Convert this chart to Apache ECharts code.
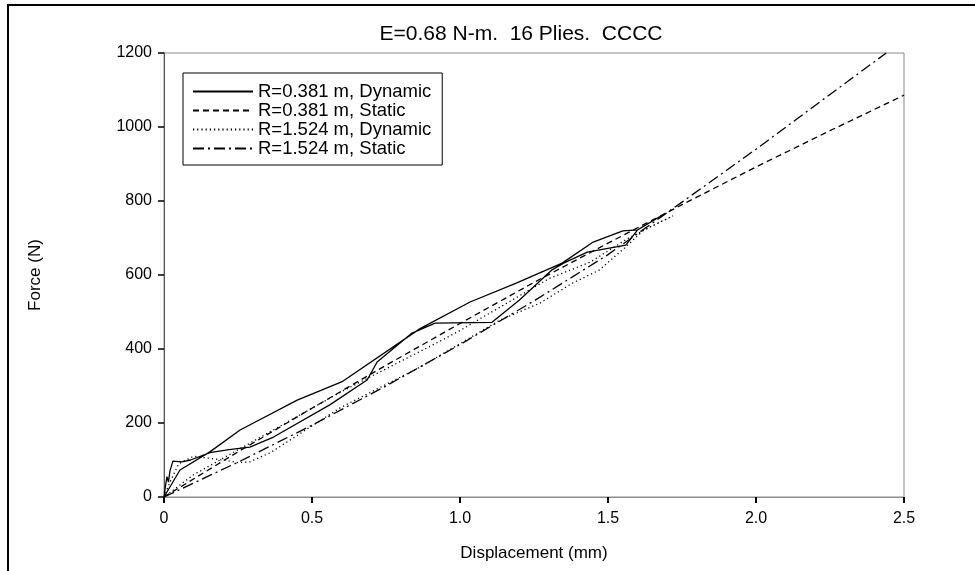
<!DOCTYPE html>
<html>
<head>
<meta charset="utf-8">
<script src="https://cdn.jsdelivr.net/npm/echarts@6/dist/echarts.min.js"></script>
<style>
html,body{margin:0;padding:0;background:#fff;}
#chart{width:975px;height:571px;}
</style>
</head>
<body>
<div id="chart"></div>
<script>
// ---- Data ----
var seriesNames = ['R=0.381 m, Dynamic', 'R=0.381 m, Static', 'R=1.524 m, Dynamic', 'R=1.524 m, Static'];

// R=0.381 m, Dynamic (loading then unloading loop)
var dyn381X = [0, 0.005, 0.01, 0.015, 0.02, 0.03, 0.06, 0.09, 0.155, 0.22, 0.29, 0.37, 0.56, 0.686, 0.72, 0.838, 0.916, 1.108, 1.2, 1.311, 1.35, 1.43, 1.56, 1.6, 1.68,
               1.6, 1.55, 1.45, 1.345, 1.19, 1.034, 0.865, 0.6, 0.45, 0.257, 0.155, 0.054, 0];
var dyn381Y = [0, 30, 55, 40, 70, 97, 95, 100, 120, 128, 135, 162, 249, 316, 365, 443, 470, 472, 532, 614, 632, 662, 681, 722, 760,
               722, 719, 689, 632, 578, 527, 455, 311, 262, 181, 122, 73, 0];

// R=0.381 m, Static
var sta381X = [0, 0.25, 0.5, 0.75, 1.0, 1.25, 1.5, 1.75, 2.0, 2.25, 2.5];
var sta381Y = [0, 122, 240, 356, 469, 580, 686, 790, 892, 990, 1086];

// R=1.524 m, Dynamic (loading then unloading loop)
var dyn1524X = [0, 0.02, 0.05, 0.1, 0.2, 0.25, 0.29, 0.36, 0.595, 0.865, 1.135, 1.27, 1.38, 1.47, 1.56, 1.62, 1.72,
                1.68, 1.57, 1.44, 1.3, 1.0, 0.93, 0.6, 0.3, 0.1, 0];
var dyn1524Y = [0, 40, 90, 110, 100, 93, 95, 120, 241, 351, 478, 524, 578, 613, 676, 721, 760,
                745, 700, 635, 590, 450, 420, 285, 150, 60, 0];

// R=1.524 m, Static
var sta1524X = [0, 0.25, 0.5, 0.75, 1.0, 1.25, 1.5, 1.75, 2.0, 2.25, 2.44];
var sta1524Y = [0, 94, 194, 300, 412, 530, 655, 797, 940, 1088, 1200];

var xTicks = [0, 0.5, 1.0, 1.5, 2.0, 2.5];
var yTicks = [0, 200, 400, 600, 800, 1000, 1200];

function pairs(xs, ys) { return xs.map(function (x, i) { return [x, ys[i]]; }); }

var FONT = '"Liberation Sans", Arial, Helvetica, sans-serif';
var chart = echarts.init(document.getElementById('chart'), null, {renderer: 'canvas'});

function lineSeries(name, data, type, width) {
  return {
    name: name, type: 'line', data: data, symbol: 'none', showSymbol: false,
    clip: true, smooth: false, animation: false,
    lineStyle: {color: '#000', width: width, type: type},
    itemStyle: {color: '#000'},
    emphasis: {disabled: true}
  };
}

var option = {
  animation: false,
  backgroundColor: '#fff',
  title: {
    text: 'E=0.68 N-m.  16 Plies.  CCCC',
    left: 516, top: 19, textAlign: 'center',
    textStyle: {fontFamily: FONT, fontSize: 21, fontWeight: 'normal', color: '#000'}
  },
  grid: {left: 164, right: 71, top: 53, bottom: 74, show: true, borderColor: '#8c8c8c', borderWidth: 1, backgroundColor: 'transparent'},
  legend: {
    orient: 'vertical', left: 183, top: 73,
    data: seriesNames,
    borderColor: '#000', borderWidth: 1,
    padding: [9, 11, 7, 9], itemGap: 0, itemWidth: 60, itemHeight: 14,
    itemStyle: {opacity: 0, borderWidth: 0},
    textStyle: {fontFamily: FONT, fontSize: 18.5, lineHeight: 17, height: 17, color: '#000'},
    selectedMode: false
  },
  xAxis: {
    type: 'value', min: 0, max: 2.5, interval: 0.5,
    name: 'Displacement (mm)', nameLocation: 'middle', nameGap: 48,
    nameTextStyle: {fontFamily: FONT, fontSize: 17, color: '#000'},
    axisLine: {show: true, onZero: false, lineStyle: {color: '#8c8c8c', width: 1}},
    axisTick: {show: true, inside: false, length: 6, lineStyle: {color: '#000', width: 2}},
    axisLabel: {fontFamily: FONT, fontSize: 16, color: '#000', margin: 14,
      formatter: function (v) { return v === 0 ? '0' : v.toFixed(1); }},
    splitLine: {show: false}
  },
  yAxis: {
    type: 'value', min: 0, max: 1200, interval: 200,
    name: 'Force (N)', nameLocation: 'middle', nameGap: 120, nameRotate: 90,
    nameTextStyle: {fontFamily: FONT, fontSize: 17, color: '#000'},
    axisLine: {show: true, onZero: false, lineStyle: {color: '#555', width: 1}},
    axisTick: {show: true, inside: false, length: 6, lineStyle: {color: '#000', width: 1.5}},
    axisLabel: {fontFamily: FONT, fontSize: 16, color: '#000', margin: 12,
      formatter: function (v) { return String(v); }},
    splitLine: {show: false}
  },
  graphic: [{
    type: 'rect', silent: true, z: -1,
    shape: {x: 8, y: 5, width: 1000, height: 600},
    style: {fill: 'none', stroke: '#000', lineWidth: 2}
  }],
  series: [
    lineSeries(seriesNames[0], pairs(dyn381X, dyn381Y), 'solid', 1.3),
    lineSeries(seriesNames[1], pairs(sta381X, sta381Y), [6, 4], 1.3),
    lineSeries(seriesNames[2], pairs(dyn1524X, dyn1524Y), [1.2, 3], 1.3),
    lineSeries(seriesNames[3], pairs(sta1524X, sta1524Y), [11, 4, 2, 4], 1.3)
  ]
};
chart.setOption(option);
</script>
</body>
</html>
